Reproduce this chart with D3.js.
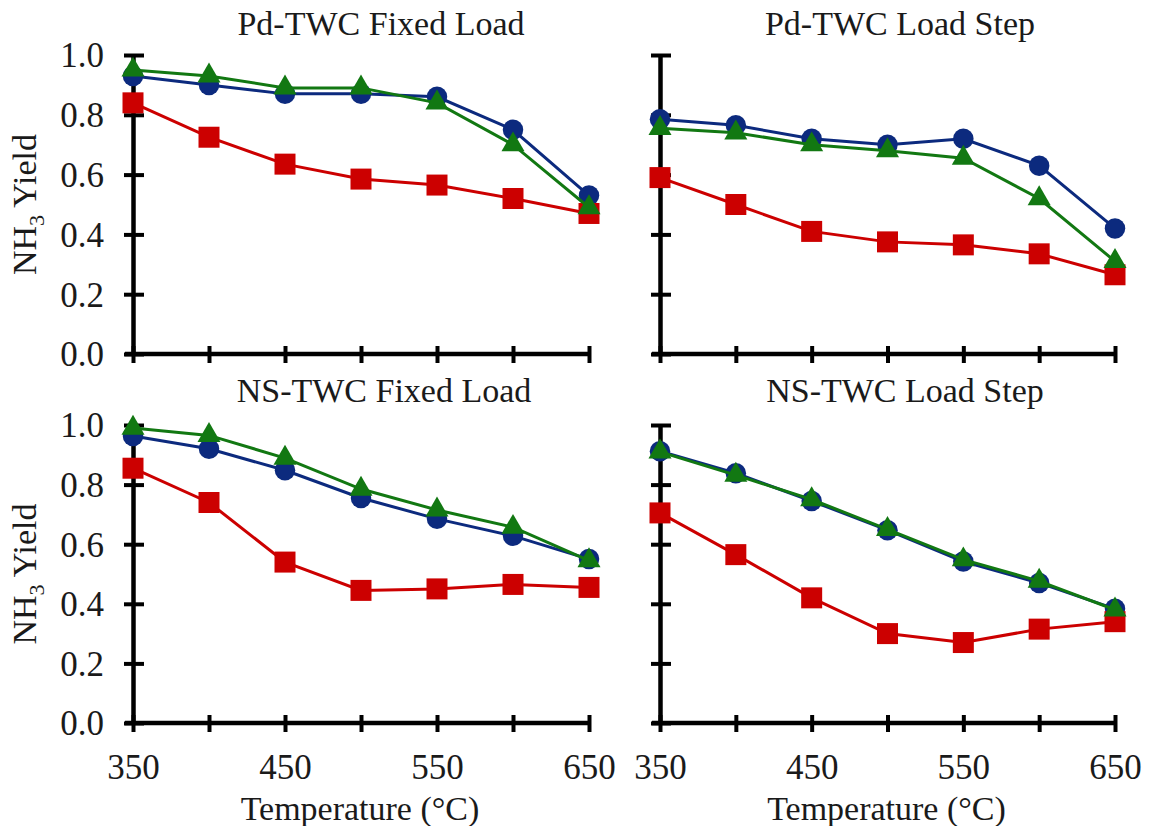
<!DOCTYPE html>
<html>
<head>
<meta charset="utf-8">
<script src="https://cdn.jsdelivr.net/npm/d3@7"></script>
<style>
  body { margin: 0; background: #fff; }
  svg { font-family: 'Liberation Serif', 'Times New Roman', serif; }
  .axis path, .axis line { stroke: #000; }
  .axis text { fill: #1a1a1a; font-size: 35px; font-family: 'Liberation Serif', serif; }
</style>
</head>
<body>
<div id="chart"></div>
<script>
'use strict'

const temps = [350, 400, 450, 500, 550, 600, 650]
const yTicks = [0, 0.2, 0.4, 0.6, 0.8, 1.0]
const xLabels = [350, 450, 550, 650]
const titles = ['Pd-TWC Fixed Load', 'Pd-TWC Load Step', 'NS-TWC Fixed Load', 'NS-TWC Load Step']

// three series per panel: circles (blue), squares (red), triangles (green)
const circleVals = [
  [0.93, 0.90, 0.87, 0.87, 0.86, 0.75, 0.53],
  [0.785, 0.765, 0.72, 0.70, 0.72, 0.63, 0.42],
  [0.963, 0.92, 0.848, 0.755, 0.685, 0.628, 0.55],
  [0.912, 0.838, 0.745, 0.647, 0.542, 0.47, 0.383]
]
const squareVals = [
  [0.84, 0.725, 0.635, 0.585, 0.565, 0.52, 0.47],
  [0.59, 0.50, 0.41, 0.375, 0.365, 0.335, 0.265],
  [0.855, 0.74, 0.54, 0.445, 0.45, 0.465, 0.455],
  [0.705, 0.565, 0.42, 0.30, 0.27, 0.315, 0.34]
]
const triangleVals = [
  [0.95, 0.93, 0.89, 0.89, 0.84, 0.70, 0.49],
  [0.755, 0.74, 0.70, 0.68, 0.655, 0.52, 0.31],
  [0.99, 0.965, 0.889, 0.785, 0.715, 0.657, 0.545],
  [0.91, 0.832, 0.75, 0.65, 0.548, 0.476, 0.38]
]

const width = 1151,
    height = 826

const svg = d3.select('#chart').append('svg')
  .attr('width', width)
  .attr('height', height)

const panels = [
  { x0: 133, x1: 589, y0: 354, y1: 55, tx: 381, ty: 35, left: true, bottom: false },
  { x0: 660, x1: 1115, y0: 354, y1: 55, tx: 900, ty: 35, left: false, bottom: false },
  { x0: 133, x1: 589, y0: 723, y1: 425, tx: 384, ty: 402, left: true, bottom: true },
  { x0: 660, x1: 1115, y0: 723, y1: 425, tx: 905, ty: 402, left: false, bottom: true }
]

const seriesStyle = [
  { key: 'circle', vals: circleVals, color: '#0c2a7e', symbol: d3.symbolCircle, size: 330 },
  { key: 'square', vals: squareVals, color: '#cc0000', symbol: d3.symbolSquare, size: 441 },
  { key: 'triangle', vals: triangleVals, color: '#127812', symbol: d3.symbolTriangle, size: 230 }
]

panels.forEach((p, i) => {
  const x = d3.scaleLinear().domain([350, 650]).range([p.x0, p.x1])
  const y = d3.scaleLinear().domain([0, 1]).range([p.y0, p.y1])
  const g = svg.append('g')

  // title
  g.append('text')
    .attr('x', p.tx)
    .attr('y', p.ty)
    .attr('text-anchor', 'middle')
    .style('font-size', '34px')
    .style('fill', '#1a1a1a')
    .text(titles[i])

  // y axis
  const yAxis = g.append('g')
    .attr('class', 'axis')
    .attr('transform', `translate(${p.x0},0)`)
    .call(d3.axisLeft(y).tickValues(yTicks).tickSizeOuter(0)
      .tickFormat(p.left ? d3.format('.1f') : () => ''))
  yAxis.select('.domain').attr('stroke-width', 4.5)
  yAxis.selectAll('.tick line').attr('x1', -9).attr('x2', 11).attr('stroke-width', 4)
  yAxis.selectAll('.tick text').attr('x', -29).attr('dy', '0.34em')

  // x axis
  const xAxis = g.append('g')
    .attr('class', 'axis')
    .attr('transform', `translate(0,${p.y0})`)
    .call(d3.axisBottom(x).tickValues(temps).tickSizeOuter(0)
      .tickFormat(d => (p.bottom && xLabels.includes(d)) ? d : ''))
  xAxis.select('.domain').attr('stroke-width', 4.5)
    .attr('d', `M${p.x0 - 8},0H${p.x1}`)
  xAxis.selectAll('.tick line').attr('y1', -8).attr('y2', 9).attr('stroke-width', 4)
  xAxis.selectAll('.tick text').attr('y', 56).attr('dy', 0)

  // series
  const line = d3.line().x((d, j) => x(temps[j])).y(d => y(d))
  const order = [0, 1, 2]
  order.forEach(k => {
    const s = seriesStyle[k]
    const vals = s.vals[i]
    g.append('path')
      .datum(vals)
      .attr('fill', 'none')
      .attr('stroke', s.color)
      .attr('stroke-width', 3)
      .attr('d', line)
    g.selectAll(`.m-${s.key}`)
      .data(vals)
      .enter().append('path')
        .attr('class', `m-${s.key}`)
        .attr('transform', (d, j) => `translate(${x(temps[j])},${y(d)})`)
        .attr('d', d3.symbol().type(s.symbol).size(s.size))
        .attr('fill', s.color)
  })

  // y label
  if (p.left) {
    const cy = (p.y0 + p.y1) / 2
    const lbl = g.append('text')
      .attr('transform', `translate(36,${cy}) rotate(-90)`)
      .attr('text-anchor', 'middle')
      .style('font-size', '34px')
      .style('fill', '#1a1a1a')
    lbl.append('tspan').text('NH')
    lbl.append('tspan').text('3').attr('dy', 8).style('font-size', '22px')
    lbl.append('tspan').text(' Yield').attr('dy', -8)
  }

  // x label
  if (p.bottom) {
    g.append('text')
      .attr('x', (p.x0 + p.x1) / 2 - 1)
      .attr('y', 820)
      .attr('text-anchor', 'middle')
      .style('font-size', '34px')
      .style('fill', '#1a1a1a')
      .text('Temperature (°C)')
  }
})
</script>
</body>
</html>
